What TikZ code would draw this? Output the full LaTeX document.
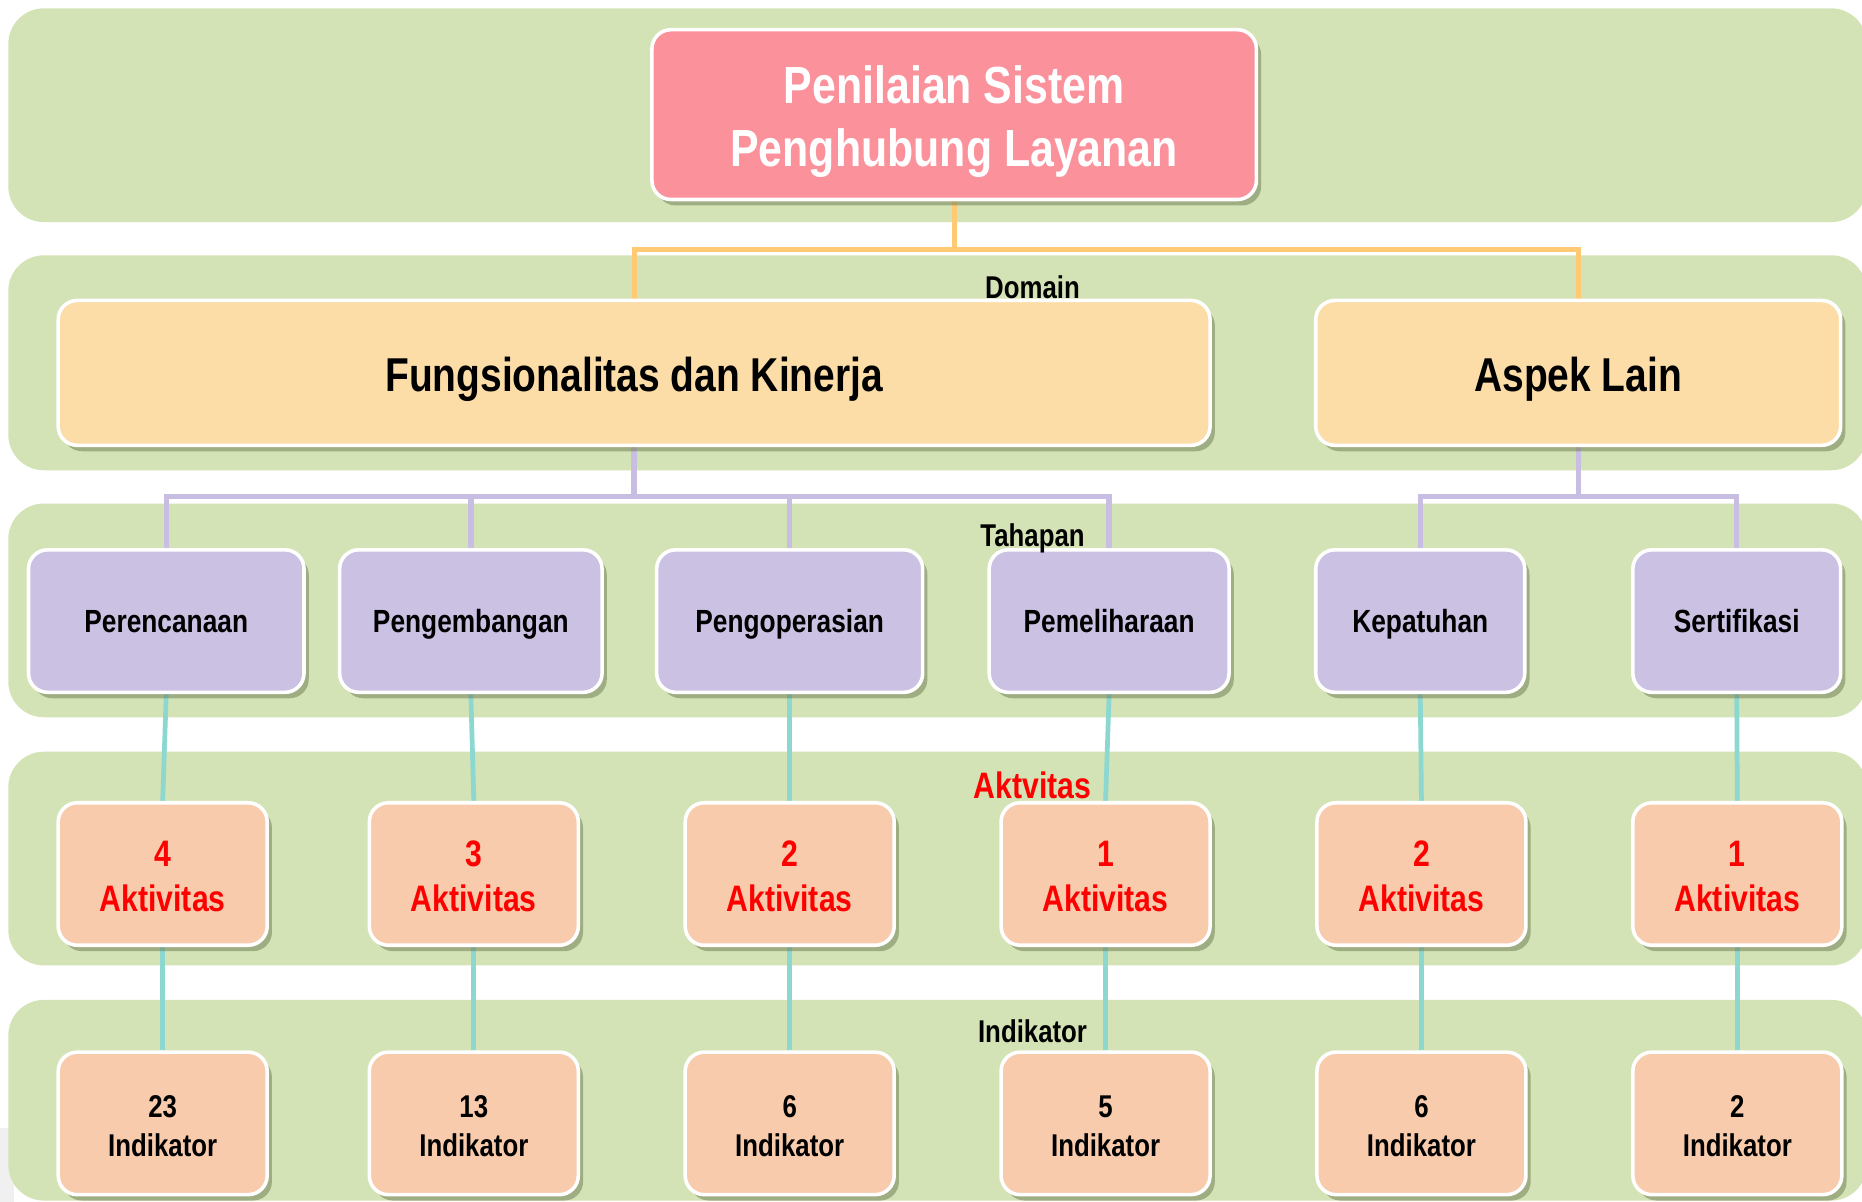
\documentclass[tikz,border=0pt]{standalone}
\usepackage{fontspec}
\newfontfamily\nar{Liberation Sans}[FakeStretch=0.82]
\usetikzlibrary{shadows}
\definecolor{bandc}{RGB}{212,227,181}
\definecolor{pinkc}{RGB}{250,145,155}
\definecolor{domc}{RGB}{252,221,168}
\definecolor{tahc}{RGB}{203,193,227}
\definecolor{aktc}{RGB}{247,203,172}
\definecolor{orlc}{RGB}{255,202,115}
\definecolor{pulc}{RGB}{200,189,226}
\definecolor{tlc}{RGB}{140,216,208}
\definecolor{shc}{RGB}{105,120,80}
\definecolor{redc}{RGB}{255,0,0}
\pgfdeclarelayer{bands}
\pgfdeclarelayer{lines}
\pgfsetlayers{bands,lines,main}
\newcommand{\upstrut}[1]{\rule{0pt}{#1}}
\tikzset{
  box/.style={draw=white, line width=3pt, rounded corners=16pt, align=center,
    inner sep=0pt,
    drop shadow={shadow xshift=4pt, shadow yshift=-5pt, fill=shc, opacity=0.5}},
  topbox/.style={box, fill=pinkc, text=white, minimum width=509pt, minimum height=143pt,
    font=\nar\bfseries\fontsize{44}{53}\selectfont},
  dombox/.style={box, fill=domc, minimum height=122pt, text height=31pt, text depth=0pt,
    font=\nar\bfseries\fontsize{40}{48}\selectfont},
  tahbox/.style={box, fill=tahc, minimum height=120pt, text height=20pt, text depth=0pt,
    font=\nar\bfseries\fontsize{27}{32}\selectfont},
  aktbox/.style={box, fill=aktc, text=redc, minimum width=176pt, minimum height=120pt,
    font=\nar\bfseries\fontsize{31}{38}\selectfont},
  indbox/.style={box, fill=aktc, minimum width=176pt, minimum height=120pt,
    font=\nar\bfseries\fontsize{26.5}{33}\selectfont},
  lab/.style={inner sep=0pt, anchor=base, font=\nar\bfseries\fontsize{26.5}{32}\selectfont},
  band/.style={fill=bandc, rounded corners=30pt},
  orl/.style={draw=orlc, line width=4pt},
  pul/.style={draw=pulc, line width=4.5pt},
  tel/.style={draw=tlc, line width=4pt}
}
\begin{document}
\begin{tikzpicture}[x=1pt,y=-1pt]
\useasboundingbox (0,0) rectangle (1568,1012);
\begin{pgfonlayer}{bands}
\fill[white] (0,0) rectangle (1568,1012);
\fill[black!6] (0,950) rectangle (12,1012);
\fill[band] (7,7) rectangle (1572,187);
\fill[band] (7,215) rectangle (1572,396);
\fill[band] (7,424) rectangle (1572,604);
\fill[band] (7,633) rectangle (1572,813);
\fill[band] (7,842) rectangle (1572,1011);
\end{pgfonlayer}

% top
\node[topbox] (top) at (803.5,96.5) {\upstrut{44pt}Penilaian Sistem\\Penghubung Layanan};

% domain
\node[dombox, minimum width=970pt] (F) at (534,314) {Fungsionalitas dan Kinerja};
\node[dombox, minimum width=442pt] (A) at (1329,314) {Aspek Lain};

% tahapan
\node[tahbox, minimum width=232pt] (t1) at (140,523) {Perencanaan};
\node[tahbox, minimum width=221pt] (t2) at (396.5,523) {Pengembangan};
\node[tahbox, minimum width=224pt] (t3) at (665,523) {Pengoperasian};
\node[tahbox, minimum width=202pt] (t4) at (934,523) {Pemeliharaan};
\node[tahbox, minimum width=176pt] (t5) at (1196,523) {Kepatuhan};
\node[tahbox, minimum width=175pt] (t6) at (1462.5,523) {Sertifikasi};

% aktivitas
\node[aktbox] (a1) at (137,736) {\upstrut{26pt}4\\Aktivitas};
\node[aktbox] (a2) at (399,736) {\upstrut{26pt}3\\Aktivitas};
\node[aktbox] (a3) at (665,736) {\upstrut{26pt}2\\Aktivitas};
\node[aktbox] (a4) at (931,736) {\upstrut{26pt}1\\Aktivitas};
\node[aktbox] (a5) at (1197,736) {\upstrut{26pt}2\\Aktivitas};
\node[aktbox] (a6) at (1463,736) {\upstrut{26pt}1\\Aktivitas};

% indikator
\node[indbox] (i1) at (137,946) {\upstrut{23pt}23\\Indikator};
\node[indbox] (i2) at (399,946) {\upstrut{23pt}13\\Indikator};
\node[indbox] (i3) at (665,946) {\upstrut{23pt}6\\Indikator};
\node[indbox] (i4) at (931,946) {\upstrut{23pt}5\\Indikator};
\node[indbox] (i5) at (1197,946) {\upstrut{23pt}6\\Indikator};
\node[indbox] (i6) at (1463,946) {\upstrut{23pt}2\\Indikator};

% level labels
\node[lab] (ldom) at (869.5,251) {Domain};
\node[lab] (ltah) at (869.5,460) {Tahapan};
\node[lab, text=redc, font=\nar\bfseries\fontsize{31}{37}\selectfont] (lakt) at (869.5,672) {Aktvitas};
\node[lab] (lind) at (869.5,878) {Indikator};

\coordinate (jo) at (803.5,210);
\coordinate (jp) at (534,418);
\coordinate (jq) at (1329,418);

\begin{pgfonlayer}{lines}
\draw[orl] (top.south) -- (jo);
\draw[orl] (F.north) |- (jo) -| (A.north);
\draw[pul] (F.south) -- (jp);
\draw[pul] (t1.north) |- (jp) -| (t4.north);
\draw[pul] (t2.north) -- (t2.north |- jp);
\draw[pul] (t3.north) -- (t3.north |- jp);
\draw[pul] (A.south) -- (jq);
\draw[pul] (t5.north) |- (jq) -| (t6.north);
\foreach \k in {1,...,6}{
  \draw[tel] (t\k.south) -- (a\k.north);
  \draw[tel] (a\k.south) -- (i\k.north);
}
\end{pgfonlayer}
\end{tikzpicture}
\end{document}
